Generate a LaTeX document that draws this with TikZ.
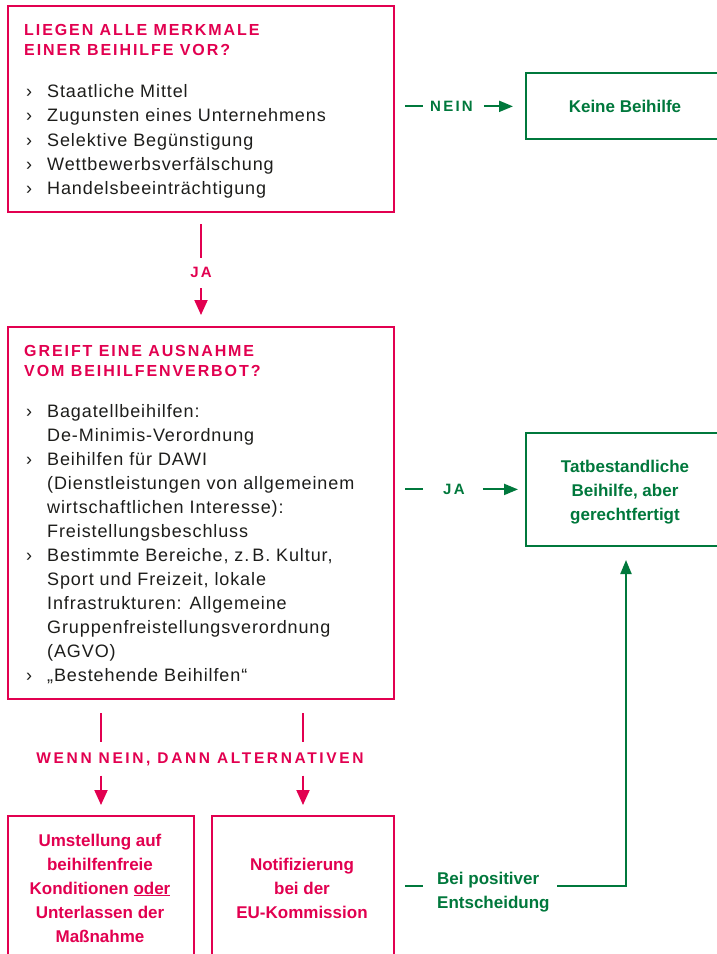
\documentclass[tikz,border=0pt]{standalone}
\usepackage{fontspec}
\setmainfont{Liberation Sans}
\newfontfamily\bodyf[LetterSpace=5]{Liberation Sans}
\newfontfamily\capf[LetterSpace=12]{Liberation Sans}
\newfontfamily\labf[LetterSpace=15]{Liberation Sans}
\newfontfamily\wnf[LetterSpace=17]{Liberation Sans}
\usetikzlibrary{arrows.meta}
\definecolor{cpink}{RGB}{226,0,80}
\definecolor{cgreen}{RGB}{0,120,60}
\definecolor{ctext}{RGB}{29,29,27}
\tikzset{
  pbox/.style={draw=cpink, line width=2pt, anchor=north west, inner sep=0pt},
  gbox/.style={draw=cgreen, line width=2pt, anchor=north west, inner sep=0pt},
  ttl/.style={anchor=base west, inner sep=0pt, text=cpink, font=\capf\bfseries\fontsize{16}{20}\selectfont},
  itm/.style={anchor=base west, inner sep=0pt, text=ctext, font=\bodyf\fontsize{18}{24}\selectfont},
  plab/.style={anchor=base, inner sep=0pt, text=cpink, font=\labf\bfseries\fontsize{15}{20}\selectfont},
  wlab/.style={anchor=base, inner sep=0pt, text=cpink, font=\wnf\bfseries\fontsize{15.5}{20}\selectfont},
  glab/.style={anchor=base west, inner sep=0pt, text=cgreen, font=\labf\bfseries\fontsize{15}{20}\selectfont},
  gtxt/.style={anchor=base, inner sep=0pt, text=cgreen, font=\bfseries\fontsize{17}{24}\selectfont},
  ptxt/.style={anchor=base, inner sep=0pt, text=cpink, font=\bfseries\fontsize{17}{24}\selectfont},
  pl/.style={draw=cpink, line width=2pt},
  gl/.style={draw=cgreen, line width=2pt},
  parr/.style={pl, -{Triangle[length=15pt,width=13pt]}},
  garr/.style={gl, -{Triangle[length=14pt,width=11pt]}},
}
\begin{document}
\begin{tikzpicture}[x=1pt,y=-1pt]
\useasboundingbox (0,0) rectangle (717,954);
\fill[white] (0,0) rectangle (717,954);

% --- Box 1
\node[pbox, minimum width=386pt, minimum height=206pt] (b1) at (7,5) {};
\node[ttl] (t1a) at (24,35.5) {LIEGEN ALLE MERKMALE};
\node[ttl] (t1b) at (24,55.5) {EINER BEIHILFE VOR?};
\foreach \y/\t [count=\i] in {97/Staatliche Mittel,121/Zugunsten eines Unternehmens,146/Selektive Begünstigung,170/Wettbewerbsverfälschung,194/Handelsbeeinträchtigung}{
  \node[itm] (s1b\i) at (26,\y) {›};
  \node[itm] (s1t\i) at (47,\y) {\t};
}

% --- Keine Beihilfe
\node[gbox, minimum width=200pt, minimum height=66pt] (kb) at (525,72) {};
\node[gtxt] (kbt) at (625,112) {Keine Beihilfe};

\node[glab] (nein) at (430,111.5) {NEIN};
\draw[gl, shorten <=10pt, shorten >=7pt] (b1.east |- nein.center) -- (nein.west);
\draw[garr, shorten <=11pt, shorten >=12pt] (nein.east) -- (kb.west |- nein.center);

% --- JA (vertical)
\node[plab] (ja1) at (201,277.5) {JA};
\draw[pl, shorten <=11pt, shorten >=9pt] (b1.south -| ja1.north) -- (ja1.north);
\draw[parr, shorten <=10.5pt, shorten >=11pt] (ja1.south) -- (ja1.south |- 0,326);

% --- Box 2
\node[pbox, minimum width=386pt, minimum height=372pt] (b2) at (7,326) {};
\node[ttl] (t2a) at (24,356.5) {GREIFT EINE AUSNAHME};
\node[ttl] (t2b) at (24,376.5) {VOM BEIHILFENVERBOT?};
\foreach \y in {417,465,561,681}{
  \node[itm] at (26,\y) {›};
}
\node[itm] (l1) at (47,417) {Bagatellbeihilfen:};
\node[itm] (l2) at (47,441) {De-Minimis-Verordnung};
\node[itm] (l3) at (47,465) {Beihilfen für DAWI};
\node[itm] (l4) at (47,489) {(Dienstleistungen von allgemeinem};
\node[itm] (l5) at (47,513) {wirtschaftlichen Interesse):};
\node[itm] (l6) at (47,537) {Freistellungsbeschluss};
\node[itm] (l7) at (47,561) {Bestimmte Bereiche, z.\,B. Kultur,};
\node[itm] (l8) at (47,585) {Sport und Freizeit, lokale};
\node[itm] (l9) at (47,609) {Infrastrukturen: Allgemeine};
\node[itm] (l10) at (47,633) {Gruppenfreistellungsverordnung};
\node[itm] (l11) at (47,657) {(AGVO)};
\node[itm] (l12) at (47,681) {„Bestehende Beihilfen“};

% --- Tatbestandliche Beihilfe
\node[gbox, minimum width=200pt, minimum height=113pt] (g2) at (525,432) {};
\node[gtxt] at (625,472) {Tatbestandliche};
\node[gtxt] at (625,496) {Beihilfe, aber};
\node[gtxt] at (625,520) {gerechtfertigt};

\node[glab] (ja2) at (443,494.5) {JA};
\draw[gl, shorten <=10pt, shorten >=20pt] (b2.east |- ja2.center) -- (ja2.west);
\draw[garr, shorten <=18pt, shorten >=7pt] (ja2.east) -- (g2.west |- ja2.center);

% --- Bottom boxes
\node[pbox, minimum width=186pt, minimum height=200pt] (b4) at (7,815) {};
\node[pbox, minimum width=182pt, minimum height=200pt] (b5) at (211,815) {};

\node[wlab] (wn) at (200,763.5) {WENN NEIN, DANN ALTERNATIVEN};
\draw[pl, shorten <=13pt, shorten >=10.5pt] (b2.south -| b4.north) -- (wn.north -| b4.north);
\draw[pl, shorten <=13pt, shorten >=10.5pt] (b2.south -| b5.north) -- (wn.north -| b5.north);
\draw[parr, shorten <=9.5pt, shorten >=10pt] (wn.south -| b4.north) -- (b4.north);
\draw[parr, shorten <=9.5pt, shorten >=10pt] (wn.south -| b5.north) -- (b5.north);

\node[ptxt] at (100,846) {Umstellung auf};
\node[ptxt] at (100,870) {beihilfenfreie};
\node[ptxt] at (100,894) {Konditionen \underline{oder}};
\node[ptxt] at (100,918) {Unterlassen der};
\node[ptxt] at (100,942) {Maßnahme};

\node[ptxt] at (302,870) {Notifizierung};
\node[ptxt] at (302,894) {bei der};
\node[ptxt] at (302,918) {EU-Kommission};

% --- Bei positiver Entscheidung
\node[gtxt, anchor=base west] (bp1) at (437,884) {Bei positiver};
\node[gtxt, anchor=base west] (bp2) at (437,908) {Entscheidung};
\coordinate (bpl) at (423,886);
\coordinate (bpr) at (557,886);
\draw[gl, shorten <=10pt] (b5.east |- bpl) -- (bpl);
\draw[garr, shorten >=13pt] (bpr) -- (bpr -| g2.south) -- (g2.south);
\end{tikzpicture}
\end{document}
